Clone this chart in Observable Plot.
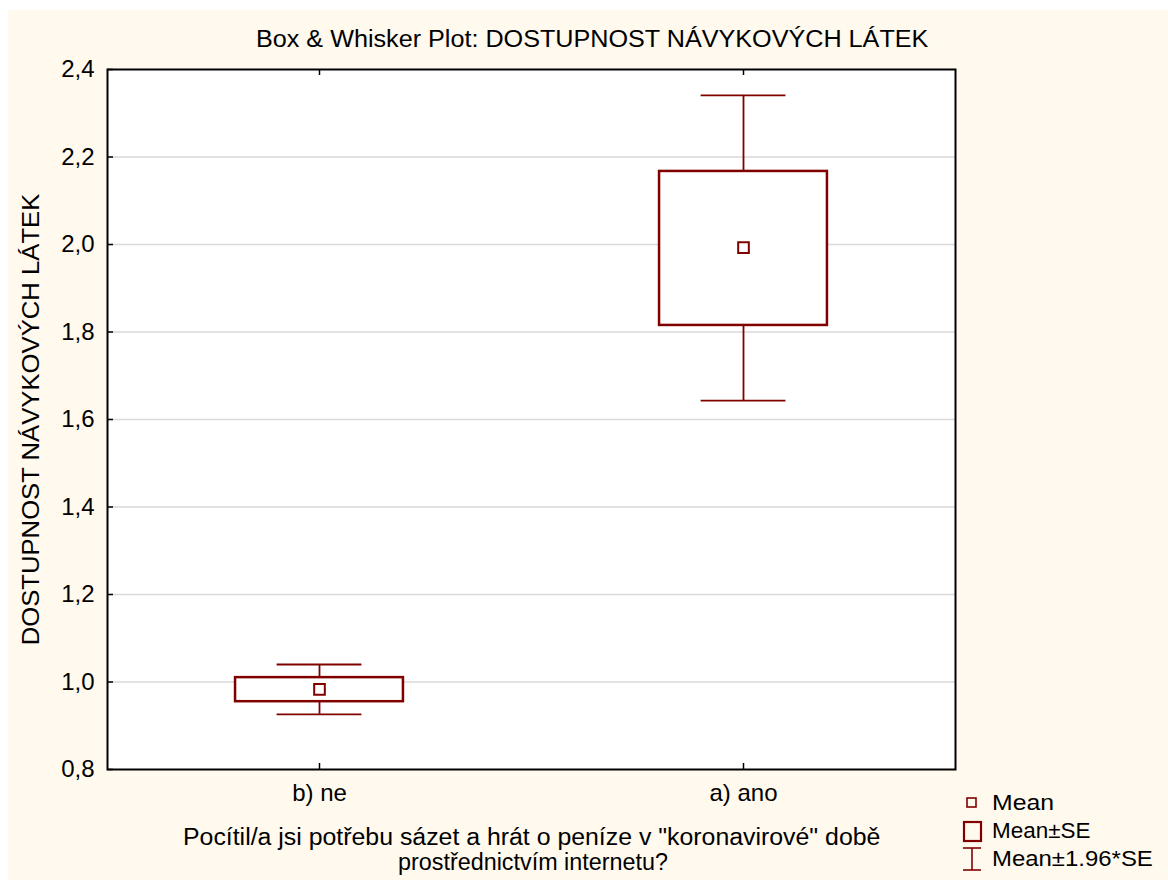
<!DOCTYPE html>
<html>
<head>
<meta charset="utf-8">
<script src="https://cdn.jsdelivr.net/npm/d3@7"></script>
<script src="https://cdn.jsdelivr.net/npm/@observablehq/plot@0.6"></script>
<style>
  html, body { margin: 0; padding: 0; background: #ffffff; }
  body { width: 1168px; height: 880px; position: relative; overflow: hidden; font-family: "Liberation Sans", Arial, sans-serif; }
  #bg { position: absolute; left: 8px; top: 10px; width: 1160px; height: 870px; background: #fff9ee; }
  #chart { position: absolute; left: 8px; top: 10px; }
  .lbl { position: absolute; white-space: nowrap; color: #000; line-height: 1; transform-origin: 50% 50%; }
  .legicon { position: absolute; }
</style>
</head>
<body>
<div id="bg"></div>
<div id="chart"></div>

<div class="lbl" id="title" data-cx="592" data-cy="39" data-w="672" style="font-size:23px">Box &amp; Whisker Plot: DOSTUPNOST NÁVYKOVÝCH LÁTEK</div>
<div class="lbl" id="ylab" data-cx="31" data-cy="419" data-w="452" data-rot="1" style="font-size:23px">DOSTUPNOST NÁVYKOVÝCH LÁTEK</div>
<div class="lbl" id="xlab1" data-cx="531" data-cy="837" data-w="697" style="font-size:23px">Pocítil/a jsi potřebu sázet a hrát o peníze v "koronavirové" době</div>
<div class="lbl" id="xlab2" data-cx="533" data-cy="862" data-w="270" style="font-size:23px">prostřednictvím internetu?</div>

<svg class="legicon" style="left:960px;top:794px" width="26" height="80">
  <rect x="7" y="4" width="9" height="9" fill="none" stroke="#800000" stroke-width="1.6"/>
  <rect x="4" y="28" width="17" height="19" fill="none" stroke="#800000" stroke-width="2.2"/>
  <line x1="3" y1="54" x2="21" y2="54" stroke="#800000" stroke-width="1.6"/>
  <line x1="12" y1="54" x2="12" y2="76" stroke="#800000" stroke-width="1.6"/>
  <line x1="3" y1="76" x2="21" y2="76" stroke="#800000" stroke-width="1.6"/>
</svg>
<div class="lbl leg" data-lx="992" data-cy="803" data-w="62" style="font-size:22px">Mean</div>
<div class="lbl leg" data-lx="992" data-cy="831" data-w="98" style="font-size:22px">Mean±SE</div>
<div class="lbl leg" data-lx="992" data-cy="859" data-w="161" style="font-size:22px">Mean±1.96*SE</div>

<script>
// ---- data ----
const categories = ["b) ne", "a) ano"];
const means      = [0.983, 1.993];
const seLow      = [0.955, 1.815];
const seHigh     = [1.010, 2.167];
const ciLow      = [0.926, 1.643];
const ciHigh     = [1.040, 2.341];
const yTicks     = [0.8, 1.0, 1.2, 1.4, 1.6, 1.8, 2.0, 2.2, 2.4];
const gridTicks  = [1.0, 1.2, 1.4, 1.6, 1.8, 2.0, 2.2];

const rows = categories.map((c, i) => ({
  cat: c, pos: i + 0.5, mean: means[i],
  seLow: seLow[i], seHigh: seHigh[i], ciLow: ciLow[i], ciHigh: ciHigh[i]
}));

const W = 1160, H = 870;
const mL = 99, mR = 213, mT = 59, mB = 111;
const boxHalf = 0.198, capHalf = 0.1;
const pxX = (W - mL - mR) / 2, pxY = (H - mT - mB) / 1.6;
const tickX = 6 / pxX, tickY = 6 / pxY;
const maroon = "#800000";
const fmt = d => d.toFixed(1).replace(".", ",");

const chart = Plot.plot({
  width: W, height: H,
  marginLeft: mL, marginRight: mR, marginTop: mT, marginBottom: mB,
  style: { fontFamily: "'Liberation Sans', Arial, sans-serif", fontSize: "24px", background: "transparent", color: "#000" },
  x: { domain: [0, 2], axis: null },
  y: { domain: [0.8, 2.4], axis: null },
  marks: [
    Plot.frame({ fill: "white", stroke: "none" }),
    Plot.ruleY(gridTicks, { stroke: "#d9d9d9", strokeWidth: 1.5 }),
    Plot.ruleY(yTicks, { x1: 0, x2: tickX, stroke: "#000", strokeWidth: 1.5 }),
    Plot.ruleX(rows, { x: "pos", y1: 0.8, y2: 0.8 + tickY, stroke: "#000", strokeWidth: 1.5 }),
    Plot.ruleX(rows, { x: "pos", y1: 2.4 - tickY, y2: 2.4, stroke: "#000", strokeWidth: 1.5 }),
    Plot.axisY({ ticks: yTicks, tickSize: 0, tickPadding: 13, tickFormat: fmt, fontSize: 24, label: null }),
    Plot.axisX({ ticks: rows.map(d => d.pos), tickSize: 0, tickPadding: 14, tickFormat: p => categories[Math.round(p - 0.5)], fontSize: 24, label: null }),
    Plot.ruleX(rows, { x: "pos", y1: "seHigh", y2: "ciHigh", stroke: maroon, strokeWidth: 1.8 }),
    Plot.ruleX(rows, { x: "pos", y1: "ciLow", y2: "seLow", stroke: maroon, strokeWidth: 1.8 }),
    Plot.ruleY(rows, { y: "ciHigh", x1: d => d.pos - capHalf, x2: d => d.pos + capHalf, stroke: maroon, strokeWidth: 1.8 }),
    Plot.ruleY(rows, { y: "ciLow", x1: d => d.pos - capHalf, x2: d => d.pos + capHalf, stroke: maroon, strokeWidth: 1.8 }),
    Plot.rect(rows, { x1: d => d.pos - boxHalf, x2: d => d.pos + boxHalf, y1: "seLow", y2: "seHigh", fill: "white", stroke: maroon, strokeWidth: 2.5 }),
    Plot.dot(rows, { x: "pos", y: "mean", symbol: "square", r: 6, fill: "white", stroke: maroon, strokeWidth: 2 }),
    Plot.frame({ stroke: "#000", strokeWidth: 2 })
  ]
});
document.getElementById("chart").appendChild(chart);

document.querySelectorAll(".lbl").forEach(el => {
  const w = el.offsetWidth;
  const s = (+el.dataset.w) / w;
  const cy = +el.dataset.cy;
  if (el.dataset.lx) {
    el.style.left = el.dataset.lx + "px";
    el.style.top = (cy - el.offsetHeight / 2) + "px";
    el.style.transformOrigin = "0 50%";
    el.style.transform = `scaleX(${s})`;
  } else {
    const cx = +el.dataset.cx;
    el.style.left = (cx - w / 2) + "px";
    el.style.top = (cy - el.offsetHeight / 2) + "px";
    el.style.transform = (el.dataset.rot ? "rotate(-90deg) " : "") + `scaleX(${s})`;
  }
});
</script>
</body>
</html>
